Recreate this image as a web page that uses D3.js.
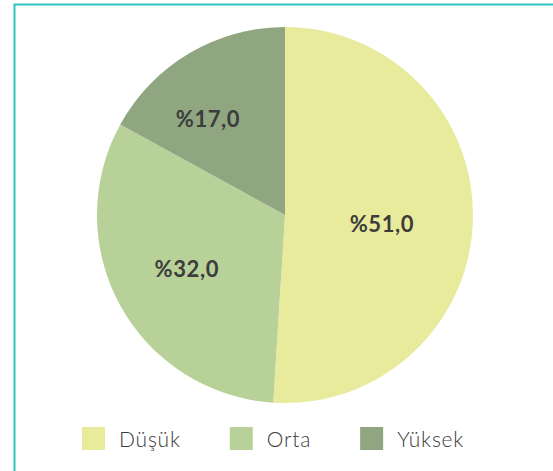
<!DOCTYPE html>
<html>
<head>
<meta charset="utf-8">
<script src="https://cdn.jsdelivr.net/npm/d3@7"></script>
<style>
  body { margin: 0; background: #fff; }
  svg { display: block; }
</style>
</head>
<body>
<svg id="chart" width="553" height="471"></svg>
<script>
// data
var kategoriler = ["Düşük", "Orta", "Yüksek"];
var degerler = [51.0, 32.0, 17.0];
var renkler = ["#e8eb9b", "#b8d198", "#8fa681"];

var svg = d3.select("#chart"),
    width = +svg.attr("width"),
    height = +svg.attr("height");

// frame (teal line at left and top)
svg.append("path")
    .attr("d", "M14.5," + height + "V4.5H" + width)
    .attr("fill", "none")
    .attr("stroke", "#2cc5c0")
    .attr("stroke-width", 2);

var cx = 285, cy = 215, radius = 188;

var color = d3.scaleOrdinal().domain(kategoriler).range(renkler);

var pie = d3.pie().sort(null).value(function(d) { return d.value; });
var arc = d3.arc().innerRadius(0).outerRadius(radius);

var datos = kategoriler.map(function(k, i) { return {key: k, value: degerler[i]}; });

var g = svg.append("g").attr("transform", "translate(" + cx + "," + cy + ")");

g.selectAll(".dilim")
    .data(pie(datos))
    .enter().append("path")
    .attr("class", "dilim")
    .attr("d", arc)
    .attr("fill", function(d) { return color(d.data.key); });

// label placement like the original (big slice closer to centre, small one pushed left)
function etiketPos(d) {
  var r = d.data.value > 40 ? 97 : 112;
  var c = d3.arc().innerRadius(r).outerRadius(r).centroid(d);
  if (d.data.value > 40) c[1] += 6;
  if (d.data.value < 20) c[0] -= 20;
  return c;
}

g.selectAll(".etiket")
    .data(pie(datos))
    .enter().append("text")
    .attr("class", "etiket")
    .attr("transform", function(d) { return "translate(" + etiketPos(d) + ")"; })
    .attr("text-anchor", "middle")
    .attr("dy", "0.36em")
    .style("font", "bold 22px Lato, 'Open Sans', sans-serif")
    .style("letter-spacing", "0.6px")
    .style("fill", "#3c3c3c")
    .text(function(d) { return "%" + d.data.value.toFixed(1).replace(".", ","); });

// legend, laid out one after the other
var leyenda = svg.selectAll(".leyenda")
    .data(kategoriler)
    .enter().append("g")
    .attr("class", "leyenda");

leyenda.append("rect")
    .attr("y", 427)
    .attr("width", 23)
    .attr("height", 23)
    .attr("fill", function(d) { return color(d); });

leyenda.append("text")
    .attr("x", 37)
    .attr("y", 447)
    .style("font", "300 21px Lato, 'Open Sans', sans-serif")
    .style("fill", "#3a3a3a")
    .style("letter-spacing", "0.8px")
    .text(function(d) { return d; });

var xpos = 82;
leyenda.each(function() {
  var grupo = d3.select(this);
  grupo.attr("transform", "translate(" + xpos + ",0)");
  var w = grupo.select("text").node().getComputedTextLength();
  xpos += 37 + w + 49;
});
</script>
</body>
</html>
